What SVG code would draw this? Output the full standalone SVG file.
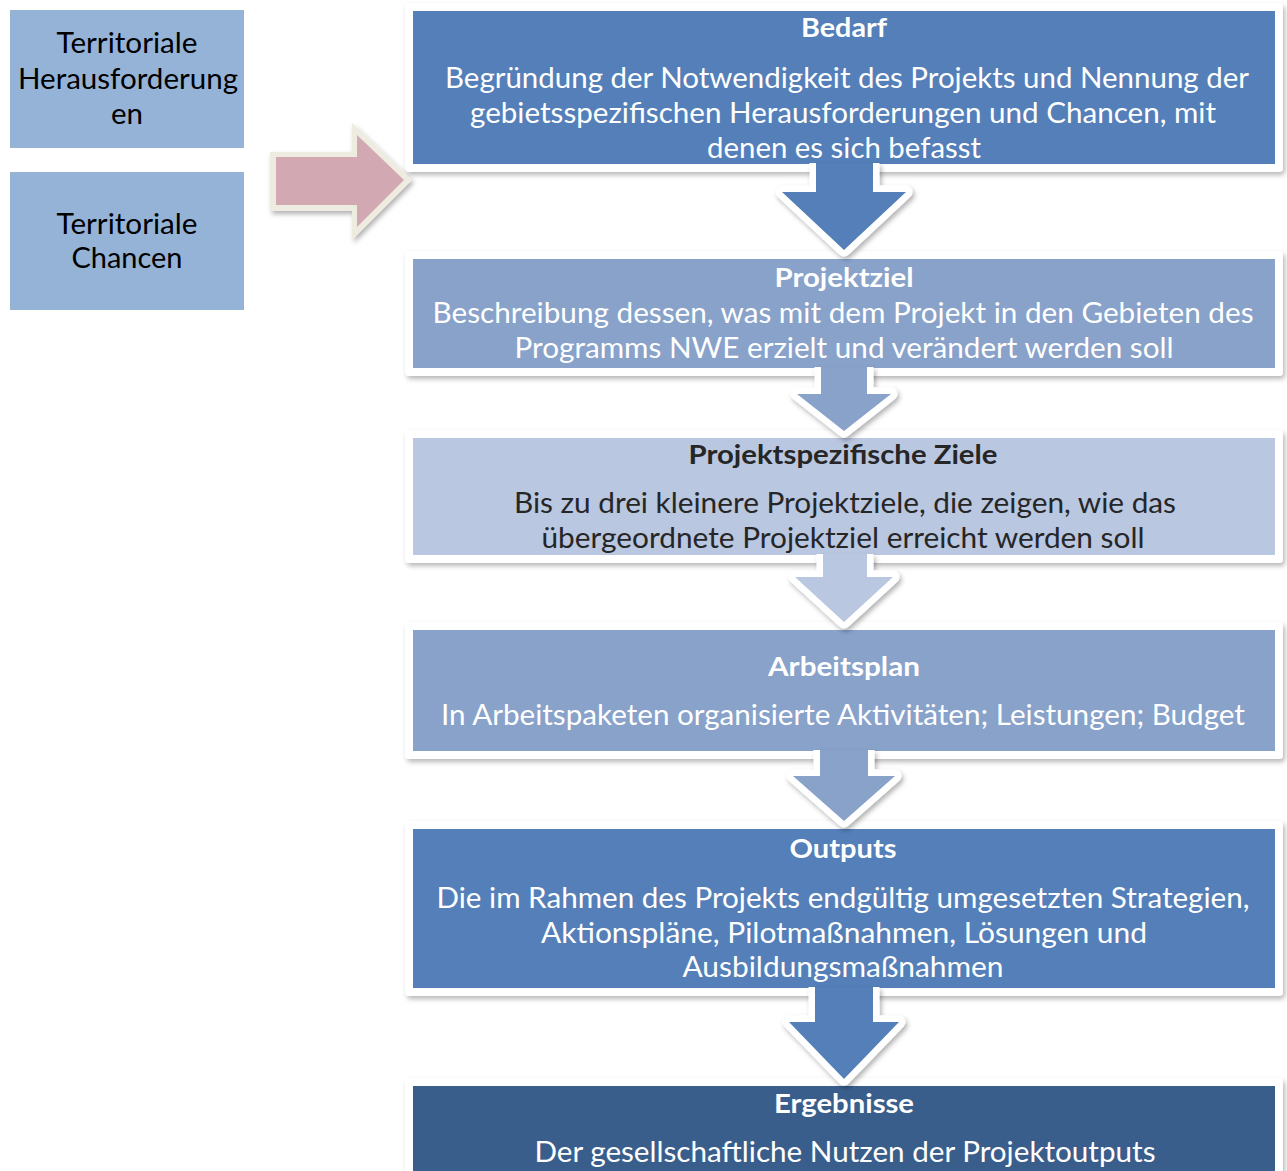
<svg xmlns="http://www.w3.org/2000/svg" width="1287" height="1171" viewBox="0 0 1287 1171">
<defs>
<filter id="sh" x="-5%" y="-10%" width="110%" height="130%">
<feDropShadow dx="2" dy="3" stdDeviation="2.5" flood-color="#000" flood-opacity="0.28"/>
</filter>
<filter id="sha" x="-20%" y="-20%" width="140%" height="140%">
<feDropShadow dx="2" dy="3" stdDeviation="2.5" flood-color="#000" flood-opacity="0.3"/>
</filter>
</defs>
<style>
.frame{fill:#fff;filter:url(#sh)}
.side{fill:#95B3D7}
.t{font-family:Lato,"Open Sans","Liberation Sans",sans-serif;font-size:28px;text-anchor:middle}
.b{font-weight:bold;font-size:27px}
.w{fill:#fff}
.k{fill:#262626}
.blk{fill:#000}
.arr{stroke:#fff;stroke-width:13;stroke-linejoin:round;paint-order:stroke fill;filter:url(#sha)}
</style>
<rect width="1287" height="1171" fill="#fff"/>

<g id="side-herausforderungen">
<rect class="side" x="10" y="10" width="234" height="138"/>
<text class="t blk" x="127" y="53" textLength="141" lengthAdjust="spacingAndGlyphs">Territoriale</text>
<text class="t blk" x="128" y="89" textLength="220" lengthAdjust="spacingAndGlyphs">Herausforderung</text>
<text class="t blk" x="127" y="124" textLength="32" lengthAdjust="spacingAndGlyphs">en</text>
</g>
<g id="side-chancen">
<rect class="side" x="10" y="172" width="234" height="138"/>
<text class="t blk" x="127" y="234" textLength="141" lengthAdjust="spacingAndGlyphs">Territoriale</text>
<text class="t blk" x="127" y="268" textLength="111" lengthAdjust="spacingAndGlyphs">Chancen</text>
</g>

<g id="box-bedarf">
<rect class="frame" x="405" y="3" width="878" height="169" rx="4"/>
<rect x="413" y="11" width="862" height="153" fill="#547FB8"/>
<text class="t b w" x="844" y="37" textLength="86" lengthAdjust="spacingAndGlyphs">Bedarf</text>
<text class="t w" x="847" y="88" textLength="804" lengthAdjust="spacingAndGlyphs">Begründung der Notwendigkeit des Projekts und Nennung der</text>
<text class="t w" x="843" y="123" textLength="746" lengthAdjust="spacingAndGlyphs">gebietsspezifischen Herausforderungen und Chancen, mit</text>
<text class="t w" x="844" y="158" textLength="274" lengthAdjust="spacingAndGlyphs">denen es sich befasst</text>
</g>

<g id="box-projektziel">
<rect class="frame" x="405" y="251" width="878" height="125" rx="4"/>
<rect x="413" y="259" width="862" height="109" fill="#88A2CA"/>
<text class="t b w" x="844" y="287" textLength="139" lengthAdjust="spacingAndGlyphs">Projektziel</text>
<text class="t w" x="843" y="323" textLength="821" lengthAdjust="spacingAndGlyphs">Beschreibung dessen, was mit dem Projekt in den Gebieten des</text>
<text class="t w" x="844" y="358" textLength="659" lengthAdjust="spacingAndGlyphs">Programms NWE erzielt und verändert werden soll</text>
</g>

<g id="box-spezifische-ziele">
<rect class="frame" x="405" y="430" width="878" height="133" rx="4"/>
<rect x="413" y="438" width="862" height="117" fill="#B9C7E1"/>
<text class="t b k" x="843" y="464" textLength="309" lengthAdjust="spacingAndGlyphs">Projektspezifische Ziele</text>
<text class="t k" x="845" y="513" textLength="662" lengthAdjust="spacingAndGlyphs">Bis zu drei kleinere Projektziele, die zeigen, wie das</text>
<text class="t k" x="843" y="548" textLength="603" lengthAdjust="spacingAndGlyphs">übergeordnete Projektziel erreicht werden soll</text>
</g>

<g id="box-arbeitsplan">
<rect class="frame" x="405" y="622" width="878" height="137" rx="4"/>
<rect x="413" y="630" width="862" height="121" fill="#88A2CA"/>
<text class="t b w" x="844" y="676" textLength="152" lengthAdjust="spacingAndGlyphs">Arbeitsplan</text>
<text class="t w" x="843" y="725" textLength="804" lengthAdjust="spacingAndGlyphs">In Arbeitspaketen organisierte Aktivitäten; Leistungen; Budget</text>
</g>

<g id="box-outputs">
<rect class="frame" x="405" y="821" width="878" height="175" rx="4"/>
<rect x="413" y="829" width="862" height="159" fill="#547FB8"/>
<text class="t b w" x="843" y="858" textLength="107" lengthAdjust="spacingAndGlyphs">Outputs</text>
<text class="t w" x="843" y="908" textLength="813" lengthAdjust="spacingAndGlyphs">Die im Rahmen des Projekts endgültig umgesetzten Strategien,</text>
<text class="t w" x="844" y="943" textLength="606" lengthAdjust="spacingAndGlyphs">Aktionspläne, Pilotmaßnahmen, Lösungen und</text>
<text class="t w" x="843" y="977" textLength="321" lengthAdjust="spacingAndGlyphs">Ausbildungsmaßnahmen</text>
</g>

<g id="box-ergebnisse">
<rect class="frame" x="405" y="1078" width="878" height="110" rx="4"/>
<rect x="413" y="1086" width="862" height="90" fill="#3A5E8C"/>
<text class="t b w" x="844" y="1113" textLength="140" lengthAdjust="spacingAndGlyphs">Ergebnisse</text>
<text class="t w" x="845" y="1162" textLength="621" lengthAdjust="spacingAndGlyphs">Der gesellschaftliche Nutzen der Projektoutputs</text>
</g>

<g id="connectors">
<path d="M270,152 L352,152 L352,123 L412,180 L352,240 L352,211 L270,211 Z" fill="#EEEBE0" filter="url(#sha)"/>
<path d="M276,157 L357,157 L357,135 L404,180 L357,227 L357,205 L276,205 Z" fill="#D2A9B3"/>
<path class="arr" fill="#547FB8" d="M816,163 L816,192 L782,192 L844,250 L906,192 L873,192 L873,163"/>
<path class="arr" fill="#88A2CA" d="M821,367 L821,394 L797,394 L844,431 L891,394 L867,394 L867,367"/>
<path class="arr" fill="#B9C7E1" d="M823,554 L823,577 L795,577 L844,622 L893,577 L867,577 L867,554"/>
<path class="arr" fill="#88A2CA" d="M820,750 L820,776 L793,776 L844,821 L895,776 L868,776 L868,750"/>
<path class="arr" fill="#547FB8" d="M815,987 L815,1022 L789,1022 L844,1079 L899,1022 L873,1022 L873,987"/>
</g>
</svg>
